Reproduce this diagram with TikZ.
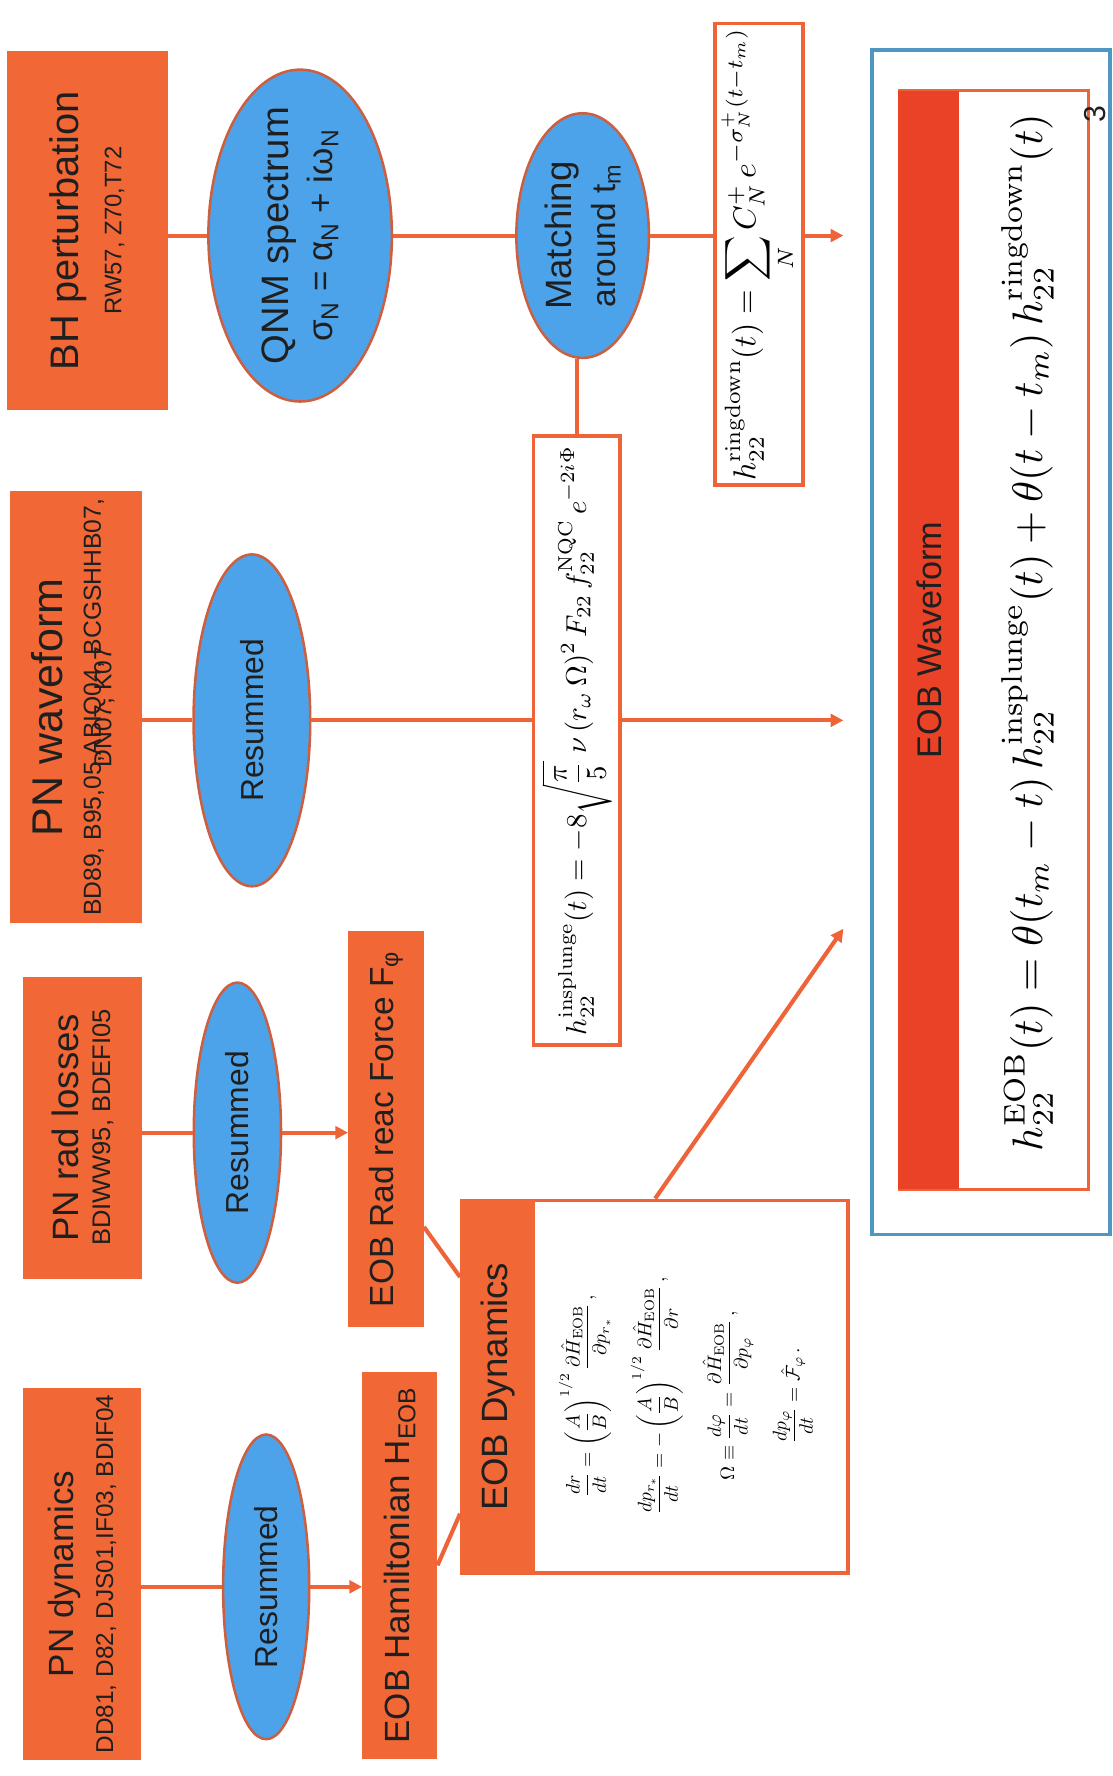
\documentclass[tikz,border=0pt]{standalone}
\usepackage[no-math]{fontspec}
\usepackage{amsmath}
\usetikzlibrary{shapes.geometric}
\usetikzlibrary{arrows.meta,calc}
\newfontfamily\arialfont{Liberation Sans}
\definecolor{boxorange}{RGB}{241,104,54}
\definecolor{linkorange}{RGB}{238,100,56}
\definecolor{ellblue}{RGB}{77,163,233}
\definecolor{ellrim}{RGB}{205,95,65}
\definecolor{headred}{RGB}{233,66,38}
\definecolor{frameblue}{RGB}{80,150,195}
\colorlet{inktext}{black!88}

\tikzset{
  srcbox/.style={rectangle, fill=boxorange, text=inktext, inner sep=0pt, align=center, font=\arialfont},
  resum/.style={ellipse, fill=ellblue, draw=ellrim, line width=1.6pt, inner sep=0pt, align=center, text=inktext, font=\arialfont},
  eqbox/.style={rectangle, fill=white, draw=linkorange, line width=2.4pt, inner sep=0pt},
  headbar/.style={rectangle, fill=#1, text=inktext, inner sep=0pt, font=\arialfont},
  blueframe/.style={rectangle, draw=frameblue, line width=2.3pt, inner sep=0pt},
  link/.style={draw=linkorange, line width=2.6pt},
  arr/.style={link, -{Triangle[length=2.8mm,width=2.8mm]}},
}

\begin{document}
\begin{tikzpicture}[rotate=90, transform shape, x=1mm, y=1mm]
\useasboundingbox (0,0) rectangle (392,245.5);

    % input boxes
    \node[srcbox, minimum width=82.25mm, minimum height=26mm] (pnd) at (44.6,227.4)
        {\fontsize{22}{26}\selectfont PN dynamics\\[9pt]\fontsize{15.3}{18}\selectfont DD81, D82, DJS01,IF03, BDIF04};
    \node[srcbox, minimum width=66.6mm, minimum height=26.1mm] (pnr) at (143.1,227.3)
        {\fontsize{23}{27}\selectfont PN rad losses\\[8pt]\fontsize{16}{19}\selectfont BDIWW95, BDEFI05};
    \node[srcbox, minimum width=95.25mm, minimum height=29.1mm] (pnw) at (235.9,228.8)
        {\fontsize{27}{31}\selectfont PN waveform\\[10pt]\fontsize{15.5}{18.6}\selectfont
         \begin{tabular}[t]{@{}c@{}}BD89, B95,05,ABIQ04, BCGSHHB07,\\[-12pt]DN07, K07\end{tabular}};
    \node[srcbox, minimum width=79.25mm, minimum height=35.5mm] (bh) at (341.1,226.25)
        {\fontsize{25}{29}\selectfont BH perturbation\\[10pt]\fontsize{15}{18}\selectfont RW57, Z70,T72};

    % resummation ellipses
    \node[resum, minimum width=67.25mm, minimum height=19mm, font=\arialfont\fontsize{20}{24}\selectfont] (dres) at (41.75,186.75) {Resummed};
    \node[resum, minimum width=66.25mm, minimum height=19.25mm, font=\arialfont\fontsize{20}{24}\selectfont] (rres) at (142,193.1) {Resummed};
    \node[resum, minimum width=73.25mm, minimum height=25.75mm, font=\arialfont\fontsize{20}{24}\selectfont] (wres) at (233,189.9) {Resummed};
    \node[resum, minimum width=73.25mm, minimum height=40.5mm, inner xsep=-3mm] (qnm) at (340,179.25)
        {\fontsize{24}{28}\selectfont QNM spectrum\\[6pt]\fontsize{22}{26}\selectfont σ\textsubscript{N} = α\textsubscript{N} + iω\textsubscript{N}};
    \node[resum, minimum width=54mm, minimum height=29.25mm] (match) at (340,116.9)
        {\fontsize{23}{27}\selectfont Matching\\[7pt]\fontsize{21}{25}\selectfont around t\textsubscript{m}};

    % EOB ingredients
    \node[srcbox, minimum width=85.5mm, minimum height=16.5mm, font=\arialfont\fontsize{22}{26}\selectfont] (ham) at (46.5,157.25) {EOB Hamiltonian H\textsubscript{EOB}};
    \node[srcbox, minimum width=87.5mm, minimum height=16.6mm, font=\arialfont\fontsize{21}{25}\selectfont] (rr) at (142.75,160.3) {EOB Rad reac Force F\textsubscript{φ}};

    \node[eqbox, minimum width=82.25mm, minimum height=85.25mm] (dyn) at (85.9,100.9) {};
    \node[headbar=boxorange, anchor=north, minimum width=82.25mm, minimum height=16.5mm, font=\arialfont\fontsize{23}{27}\selectfont] (dynhead) at (dyn.north) {EOB Dynamics};
    \node (dyneq) at (83.9,94.1) {\resizebox{52.5mm}{!}{$\begin{gathered}
        \frac{dr}{dt} = \left(\frac{A}{B}\right)^{1/2} \frac{\partial \hat{H}_{\rm EOB}}{\partial p_{r_*}}\,, \\[6pt]
        \frac{dp_{r_*}}{dt} = -\left(\frac{A}{B}\right)^{1/2} \frac{\partial \hat{H}_{\rm EOB}}{\partial r}\,, \\[6pt]
        \Omega \equiv \frac{d\varphi}{dt} = \frac{\partial \hat{H}_{\rm EOB}}{\partial p_\varphi}\,, \\[6pt]
        \frac{dp_\varphi}{dt} = \hat{\mathcal{F}}_\varphi\,.
        \end{gathered}$}};

    \node[eqbox, minimum width=134.5mm, minimum height=19.1mm] (ins) at (228.55,118.2)
        {\resizebox{130mm}{!}{$\displaystyle h_{22}^{\rm insplunge}(t) = -8\sqrt{\frac{\pi}{5}}\;\nu\,(r_\omega\,\Omega)^2\,F_{22}\,f_{22}^{\rm NQC}\,e^{-2i\Phi}$}};
    \node[eqbox, minimum width=101.85mm, minimum height=19.5mm] (rd) at (335.9,78)
        {\resizebox{100mm}{!}{$\displaystyle h_{22}^{\rm ringdown}(t) = \sum_N C_N^+\,e^{-\sigma_N^+ (t-t_m)}$}};

    % final waveform
    \node[blueframe, minimum width=261.5mm, minimum height=52.5mm] (wframe) at (250.25,26.75) {};
    \node[eqbox, line width=1.8pt, minimum width=242.5mm, minimum height=41.75mm] (wbox) at (250.75,26.1) {};
    \node[headbar=headred, anchor=north, minimum width=242.5mm, minimum height=13.5mm, font=\arialfont\fontsize{21.5}{25}\selectfont] (whead) at (wbox.north) {EOB Waveform};
    \node (weq) at (252.4,18.75)
        {\resizebox{229mm}{!}{$\displaystyle h_{22}^{\rm EOB}(t) = \theta(t_m - t)\,h_{22}^{\rm insplunge}(t) + \theta(t - t_m)\,h_{22}^{\rm ringdown}(t)$}};
    \node[font=\arialfont\fontsize{19}{22}\selectfont, text=inktext] (pagenum) at (366.75,3.75) {3};

    \coordinate (wavein1) at (340,59.35);
    \coordinate (wavein2) at (233,59.35);
    \coordinate (wavein3) at (187,59.35);

    % connectors
    \draw[link] (pnd.south -| dres) -- (dres.north);
    \draw[arr] (dres.south) -- (dres.south |- ham.north);
    \draw[link] (pnr.south -| rres) -- (rres.north);
    \draw[arr] (rres.south) -- (rres.south |- rr.north);
    \draw[link] (pnw.south -| wres) -- (wres.north);
    \draw[link] (wres.south) -- (wres.south |- ins.north);
    \draw[arr] (ins.south -| wres) -- (wavein2);
    \draw[link] (bh.south -| qnm) -- (qnm.north);
    \draw[link] (qnm.south) -- (match.north);
    \draw[link] (match.south) -- (match.south |- rd.north);
    \draw[arr] (rd.south -| match) -- (wavein1);
    \draw[link] (ins.east) -- (ins.east -| match.west);

    \draw[link] (ham.south) -- ($(dynhead.north west)!0.16!(dynhead.north east)$);
    \draw[link] ($(rr.south west)!0.254!(rr.south east)$) -- ($(dynhead.north west)!0.794!(dynhead.north east)$);
    \draw[arr] (dyn.east) -- (wavein3);

\end{tikzpicture}
\end{document}
